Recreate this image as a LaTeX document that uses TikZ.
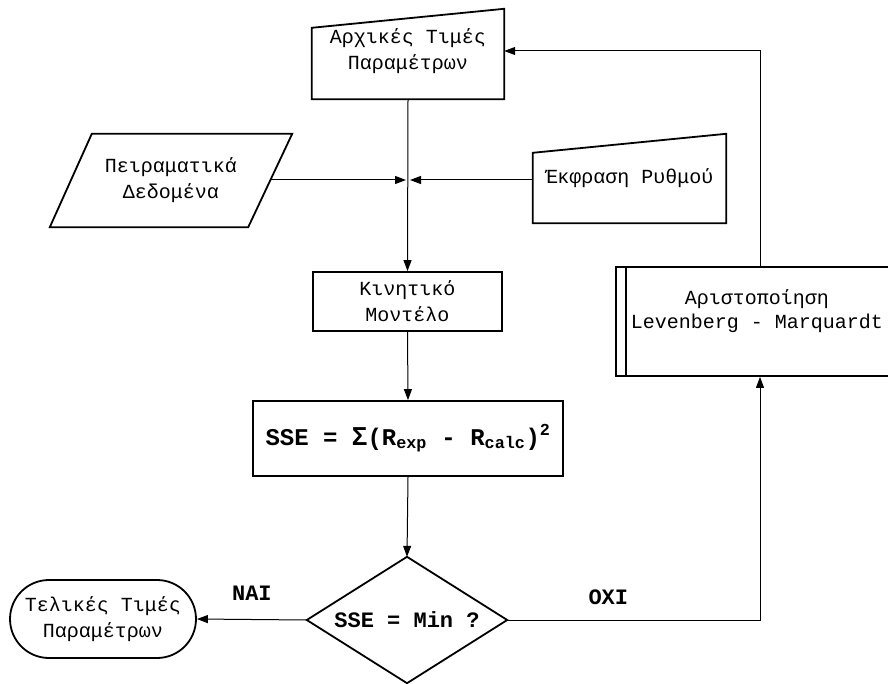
\documentclass[tikz,border=0pt]{standalone}
\usepackage{fontspec}
\setmainfont{Liberation Mono}
\newfontfamily\sigmafont{Liberation Sans}
\usetikzlibrary{arrows.meta}

\tikzset{
	outline/.style={line width=1.8pt},
	txt/.style={font=\fontsize{20}{26}\selectfont, align=center, inner sep=0pt},
	flow/.style={line width=1pt, -{Triangle[length=11pt,width=8pt]}},
	lbl/.style={font=\bfseries\fontsize{22}{22}\selectfont}
}

\newcommand{\maninput}[3]{\draw[outline] (#1.south west) -- (#1.south east) -- ([yshift=-#2]#1.north east) -- ([yshift=-#3]#1.north west) -- cycle;}

\begin{document}
\begin{tikzpicture}[x=1pt,y=1pt]
				\useasboundingbox (0,0) rectangle (888,-684);
				
				\node[txt, minimum width=192, minimum height=96] (init) at (408,-51) {Αρχικές Τιμές\\Παραμέτρων};
				\maninput{init}{6}{25}
				
				\node[txt, minimum width=242, minimum height=93] (data) at (171,-180.5) {Πειραματικά\\Δεδομένα};
				\draw[outline] ([xshift=42]data.north west) -- (data.north east) -- ([xshift=-44]data.south east) -- (data.south west) -- cycle;
				
				\node[txt, minimum width=193, minimum height=90] (rate) at (629.5,-178) {Έκφραση Ρυθμού};
				\maninput{rate}{1}{20}
				
				\coordinate (join) at (408,-180);
				
				\node[txt, draw, outline, minimum width=189, minimum height=59] (kin) at (407.5,-301.5) {Κινητικό\\Μοντέλο};
				
				\node[draw, outline, minimum width=310, minimum height=75, font=\bfseries\fontsize{24}{24}\selectfont] (sse) at (408,-438.5)
					{SSE = {\sigmafont\fontsize{26}{26}\selectfont Σ}(R\textsubscript{exp} - R\textsubscript{calc})\textsuperscript{2}};
				
				\node[lbl, minimum width=200, minimum height=126, inner sep=0pt] (dec) at (407,-620) {SSE = Min ?};
				\draw[outline] (dec.north) -- (dec.east) -- (dec.south) -- (dec.west) -- cycle;
				
				\node[txt, draw, outline, rounded corners=39, minimum width=186, minimum height=78] (fin) at (103,-619) {Τελικές Τιμές\\Παραμέτρων};
				
				\node[txt, draw, outline, font=\fontsize{20}{24}\selectfont, minimum width=282, minimum height=109] (opt) at (757,-321.5) {Αριστοποίηση\\Levenberg - Marquardt\\\mbox{}};
				\draw[outline] ([xshift=11]opt.north west) -- ([xshift=11]opt.south west);
				
				\draw[flow] (init.south) -- (kin.north);
				\draw[flow, shorten >=2pt] ([xshift=-22]data.east |- join) -- (join);
				\draw[flow, shorten >=2pt] (rate.west |- join) -- (join);
				\draw[flow] (kin.south) -- (sse.north);
				\draw[flow] (sse.south) -- (dec.north);
				\draw[flow] (dec.west) -- node[lbl, midway, yshift=26] {NAI} (fin.east);
				\draw[flow] (dec.east) -| node[lbl, pos=0.2, yshift=23] {OXI} ([xshift=3]opt.south);
				\draw[flow] ([xshift=3]opt.north) |- (init.east);
				\end{tikzpicture}
\end{document}
